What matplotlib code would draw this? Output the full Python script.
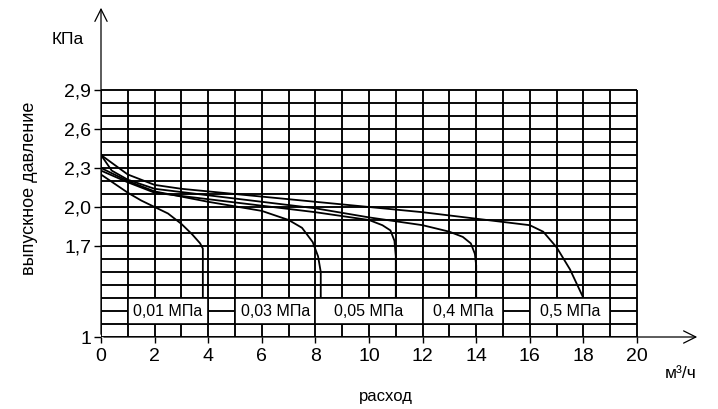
import matplotlib.pyplot as plt

plt.rcParams['font.family'] = ['Liberation Sans', 'DejaVu Sans']
narrow = ['Liberation Sans Narrow', 'Liberation Sans', 'DejaVu Sans']

# flow (m3/h) and outlet pressure (kPa), one pair per curve
flow_001 = [0, 0.5, 1, 1.5, 2, 2.5, 3, 3.4, 3.7, 3.8, 3.8]
press_001 = [2.25, 2.18, 2.11, 2.05, 2.0, 1.95, 1.87, 1.79, 1.72, 1.68, 1.30]

flow_003 = [0, 1, 2, 4, 6, 7, 7.5, 7.9, 8.1, 8.2, 8.2]
press_003 = [2.30, 2.20, 2.12, 2.04, 1.97, 1.90, 1.84, 1.73, 1.62, 1.50, 1.30]

flow_005 = [0, 1, 2, 4, 6, 8, 9, 10, 10.5, 10.8, 10.95, 11, 11]
press_005 = [2.28, 2.19, 2.11, 2.06, 2.01, 1.96, 1.93, 1.90, 1.86, 1.82, 1.74, 1.62, 1.30]

flow_04 = [0, 0.4, 1, 2, 4, 6, 8, 10, 12, 13, 13.5, 13.8, 13.95, 14, 14]
press_04 = [2.40, 2.28, 2.21, 2.14, 2.09, 2.04, 1.99, 1.92, 1.86, 1.81, 1.77, 1.72, 1.64, 1.55, 1.30]

flow_05 = [0, 1, 2, 3, 4, 6, 8, 10, 12, 14, 16, 16.5, 17, 17.5, 18]
press_05 = [2.40, 2.25, 2.17, 2.14, 2.12, 2.08, 2.04, 2.00, 1.96, 1.91, 1.86, 1.81, 1.69, 1.52, 1.30]

curves = [(flow_001, press_001), (flow_003, press_003), (flow_005, press_005),
          (flow_04, press_04), (flow_05, press_05)]

box_labels = ["0,01 МПа", "0,03 МПа", "0,05 МПа", "0,4 МПа", "0,5 МПа"]
box_from = [1, 5, 8, 12, 16]
box_to = [4, 8, 12, 15, 19]

grid_x = list(range(0, 21))
grid_y = [round(1.0 + 0.1 * i, 1) for i in range(20)]

x_ticks = list(range(0, 21, 2))
y_ticks = [1.0, 1.7, 2.0, 2.3, 2.6, 2.9]
y_tick_labels = ["1", "1,7", "2,0", "2,3", "2,6", "2,9"]

fig = plt.figure(figsize=(7.18, 4.09), dpi=100)
ax = fig.add_axes([101 / 718, 72 / 409, 599 / 718, 332 / 409])
ax.set_xlim(0, 599 / 26.8)
ax.set_ylim(1.0, 1.0 + 332 / 130)
for s in ax.spines.values():
    s.set_visible(False)

# grid
ax.vlines(grid_x, 1.0, 2.9, color="black", lw=1.35, zorder=1)
ax.hlines(grid_y, 0, 20, color="black", lw=1.35, zorder=1)

# axis arrows
ax.annotate("", xy=(599 / 26.8, 1.0), xytext=(0, 1.0),
            arrowprops=dict(arrowstyle="->", lw=0.9, color="black", mutation_scale=22),
            annotation_clip=False, zorder=2)
ax.annotate("", xy=(0, 1.0 + 332 / 130), xytext=(0, 1.0),
            arrowprops=dict(arrowstyle="->", lw=0.9, color="black", mutation_scale=22),
            annotation_clip=False, zorder=2)

# curves
for fx, py in curves:
    ax.plot(fx, py, color="black", lw=1.3, zorder=3)

# pressure label boxes
for lab, a, b in zip(box_labels, box_from, box_to):
    ax.add_patch(plt.Rectangle((a, 1.1), b - a, 0.2, facecolor="white",
                               edgecolor="black", lw=1.2, zorder=4))
    ax.text((a + b) / 2, 1.2, lab, ha="center", va="center", fontsize=11.5, zorder=5)

ax.set_xticks(x_ticks)
ax.set_xticklabels([str(v) for v in x_ticks], family=narrow, fontsize=14)
ax.set_yticks(y_ticks)
ax.set_yticklabels(y_tick_labels, family=narrow, fontsize=14)
ax.tick_params(axis="x", length=4, width=1, pad=4)
ax.tick_params(axis="y", length=5, width=1, pad=2)

fig.text(68 / 718, 1 - 39 / 409, "КПа", ha="center", va="center", fontsize=12.5)
fig.text(30 / 718, 1 - 188 / 409, "выпускное давление", ha="center", va="center",
         rotation=90, fontsize=13)
fig.text(681 / 718, 1 - 373 / 409, "м³/ч", ha="center", va="center", fontsize=12.5)
fig.text(386 / 718, 1 - 396 / 409, "расход", ha="center", va="center", fontsize=12)

fig.savefig("out.png", dpi=100)
